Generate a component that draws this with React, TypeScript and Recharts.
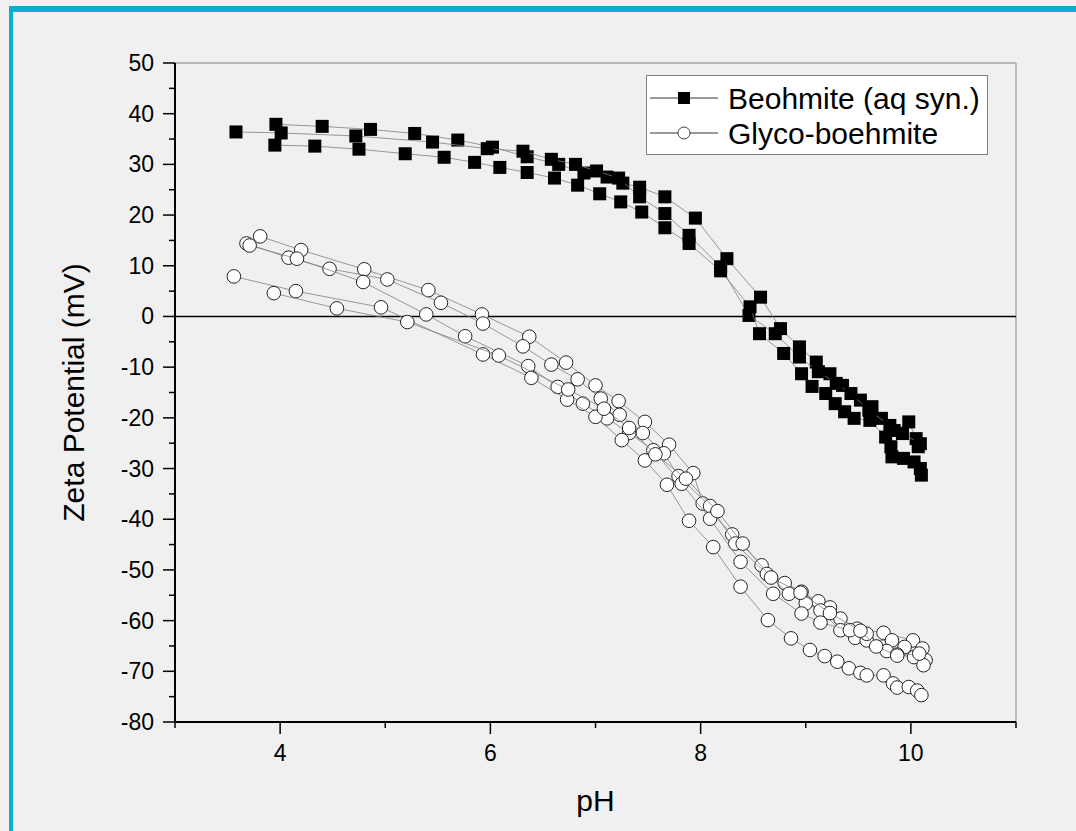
import React from 'react';
import {
  ScatterChart,
  Scatter,
  XAxis,
  YAxis,
  ReferenceLine,
  Legend,
} from 'recharts';

// pH / zeta potential (mV) pairs, one array per titration run
const beohmiteRun1 = [
  [3.96, 37.9], [4.4, 37.5], [4.86, 36.9], [5.28, 36.1], [5.69, 34.8], [6.02, 33.4],
  [6.35, 31.5], [6.65, 30.0], [6.89, 28.3], [7.11, 27.5], [7.26, 26.3], [7.42, 25.5],
  [7.66, 23.6], [7.95, 19.4], [8.25, 11.4], [8.57, 3.8], [8.76, -2.4], [8.94, -6.0],
  [9.1, -9.0], [9.23, -11.3], [9.35, -13.6], [9.52, -16.5], [9.63, -17.8], [9.72, -20.1],
  [9.84, -22.5], [9.98, -20.8], [10.05, -24.1], [10.07, -25.7],
];
const beohmiteRun2 = [
  [3.58, 36.4], [4.01, 36.2], [4.72, 35.6], [5.45, 34.4], [5.97, 33.1], [6.31, 32.6],
  [6.58, 31.0], [6.81, 30.0], [7.01, 28.7], [7.22, 27.3], [7.42, 23.6], [7.66, 20.3],
  [7.89, 16.0], [8.19, 9.8], [8.46, 0.2], [8.71, -3.4], [8.94, -8.0], [9.12, -10.9],
  [9.29, -13.2], [9.43, -15.2], [9.6, -18.5], [9.8, -21.5], [9.92, -23.1], [10.09, -25.1],
];
const beohmiteRun3 = [
  [3.95, 33.8], [4.33, 33.6], [4.75, 33.0], [5.19, 32.1], [5.56, 31.4], [5.85, 30.4],
  [6.09, 29.4], [6.35, 28.4], [6.61, 27.3], [6.83, 25.9], [7.04, 24.2], [7.24, 22.6],
  [7.44, 20.6], [7.66, 17.5], [7.89, 14.4], [8.19, 9.0], [8.47, 1.9], [8.56, -3.4],
  [8.79, -7.3], [8.96, -11.3], [9.06, -13.8], [9.19, -15.2], [9.28, -17.2], [9.37, -18.8],
  [9.46, -20.1], [9.61, -20.5], [9.76, -23.8], [9.81, -25.7], [9.82, -27.7], [9.93, -28.0],
  [10.03, -28.7], [10.09, -30.0], [10.1, -31.3],
];

const glycoRun1 = [
  [3.81, 15.8], [4.2, 13.1], [4.8, 9.3], [5.41, 5.2], [5.92, 0.4], [6.37, -4.0],
  [6.72, -9.1], [7.0, -13.6], [7.22, -16.7], [7.47, -20.8], [7.7, -25.3], [7.93, -30.9],
  [8.02, -36.9], [8.3, -43.0], [8.58, -49.1], [8.8, -52.6], [8.96, -54.3], [9.12, -56.2],
  [9.23, -57.4], [9.33, -59.6], [9.49, -61.6], [9.74, -62.4], [10.02, -63.9], [10.11, -65.5],
];
const glycoRun2 = [
  [3.68, 14.4], [4.08, 11.6], [4.47, 9.4], [5.02, 7.3], [5.53, 2.7], [5.93, -1.4],
  [6.31, -5.9], [6.58, -9.5], [6.83, -12.4], [7.05, -16.2], [7.23, -19.4], [7.45, -23.0],
  [7.65, -27.0], [7.79, -31.5], [8.09, -37.4], [8.33, -44.8], [8.63, -50.8], [8.84, -54.7],
  [9.0, -56.6], [9.14, -58.0], [9.33, -61.9], [9.47, -63.4], [9.58, -63.9], [9.82, -63.9],
  [9.94, -65.2], [10.14, -67.8],
];
const glycoRun3 = [
  [3.71, 14.0], [4.16, 11.4], [4.79, 6.8], [5.39, 0.4], [5.76, -3.9], [6.36, -9.8],
  [6.64, -13.9], [6.88, -17.2], [7.11, -20.1], [7.32, -23.0], [7.55, -26.4], [7.82, -33.0],
  [8.09, -39.9], [8.38, -48.4], [8.69, -54.7], [8.96, -58.6], [9.14, -60.4], [9.42, -61.9],
  [9.58, -62.6], [9.77, -66.0], [9.87, -66.7], [10.03, -67.2], [10.12, -68.8],
];
const glycoRun4 = [
  [3.56, 7.9], [4.15, 5.0], [4.96, 1.8], [5.93, -7.5], [6.39, -12.1], [6.73, -16.4],
  [7.0, -19.8], [7.25, -24.4], [7.47, -28.4], [7.68, -33.2], [7.89, -40.3], [8.12, -45.5],
  [8.38, -53.3], [8.64, -59.9], [8.86, -63.5], [9.04, -65.8], [9.18, -67.0], [9.3, -68.1],
  [9.41, -69.4], [9.52, -70.3], [9.58, -70.8], [9.74, -70.8], [9.83, -72.4], [9.87, -73.2],
  [9.98, -73.1], [10.06, -73.8], [10.1, -74.7],
];
const glycoRun5 = [
  [3.94, 4.6], [4.54, 1.6], [5.21, -1.1], [6.08, -7.7], [6.74, -14.4], [7.08, -18.2],
  [7.32, -22.0], [7.57, -27.2], [7.86, -32.0], [8.16, -38.4], [8.4, -44.8], [8.67, -51.5],
  [8.95, -54.5], [9.23, -58.5], [9.52, -62.0], [9.67, -65.1], [9.87, -66.9], [10.08, -66.5],
];

const X_TICKS = [3, 4, 5, 6, 7, 8, 9, 10, 11];
const Y_TICKS = [-80, -75, -70, -65, -60, -55, -50, -45, -40, -35, -30, -25, -20, -15, -10, -5, 0, 5, 10, 15, 20, 25, 30, 35, 40, 45, 50];

const FONT = 'Arial, "Liberation Sans", sans-serif';
const BG = '#f0f0f0';
const LINE = { stroke: '#808080', strokeWidth: 0.8 };

const toPoints = (run: number[][]) => run.map(([x, y]) => ({ x, y }));

const SquareMark = (p: any) => (
  <rect x={p.cx - 6.5} y={p.cy - 6.5} width={13} height={13} fill="#000" />
);
const CircleMark = (p: any) => (
  <circle cx={p.cx} cy={p.cy} r={6.8} fill="#fff" stroke="#222" strokeWidth={1} />
);

const XTick = (p: any) => {
  const v = p.payload.value;
  const major = v % 2 === 0;
  return (
    <g>
      <line x1={p.x} y1={p.y} x2={p.x} y2={p.y + (major ? 12 : 6)} stroke="#000" strokeWidth={1.5} />
      {major && (
        <text x={p.x} y={p.y + 31} textAnchor="middle" dominantBaseline="central"
          fontFamily={FONT} fontSize={23} fill="#000">{v}</text>
      )}
    </g>
  );
};

const YTick = (p: any) => {
  const v = p.payload.value;
  const major = v % 10 === 0;
  return (
    <g>
      <line x1={p.x - (major ? 12 : 6)} y1={p.y} x2={p.x} y2={p.y} stroke="#000" strokeWidth={1.5} />
      {major && (
        <text x={p.x - 21} y={p.y} textAnchor="end" dominantBaseline="central"
          fontFamily={FONT} fontSize={23} fill="#000">{v}</text>
      )}
    </g>
  );
};

const renderLegend = () => (
  <svg width={342} height={80} style={{ display: 'block' }}>
    <rect x={0.5} y={0.5} width={341} height={79} fill="#fff" stroke="#808080" />
    <line x1={4} y1={23} x2={72} y2={23} stroke="#333" strokeWidth={1} />
    <rect x={32} y={17} width={12} height={12} fill="#000" />
    <text x={82} y={23} dominantBaseline="central" fontFamily={FONT} fontSize={30} fill="#000">
      Beohmite (aq syn.)
    </text>
    <line x1={4} y1={58} x2={72} y2={58} stroke="#333" strokeWidth={1} />
    <circle cx={38} cy={58} r={6} fill="#fff" stroke="#444" />
    <text x={82} y={58} dominantBaseline="central" fontFamily={FONT} fontSize={30} fill="#000">
      Glyco-boehmite
    </text>
  </svg>
);

const beohmiteRuns = [beohmiteRun1, beohmiteRun2, beohmiteRun3];
const glycoRuns = [glycoRun1, glycoRun2, glycoRun3, glycoRun4, glycoRun5];

export default function App() {
  return (
    <div style={{ position: 'absolute', left: 0, top: 0, width: 1076, height: 831, background: BG, overflow: 'hidden' }}>
      <div style={{ position: 'absolute', left: 9, top: 6, width: 1067, height: 6, background: '#0aafd3' }} />
      <div style={{ position: 'absolute', left: 9, top: 6, width: 4, height: 825, background: '#0aafd3' }} />
      <ScatterChart
        width={1076}
        height={831}
        margin={{ top: 63, right: 60, bottom: 49, left: 50 }}
        style={{ position: 'absolute', left: 0, top: 0 }}
      >
        <XAxis
          type="number"
          dataKey="x"
          domain={[3, 11]}
          ticks={X_TICKS}
          interval={0}
          height={60}
          tickSize={0}
          tickMargin={0}
          tickLine={false}
          tick={<XTick />}
          axisLine={{ stroke: '#000', strokeWidth: 2 }}
          label={{
            content: (lp: any) => {
              const vb = lp.viewBox;
              return (
                <text x={vb.x + vb.width / 2} y={vb.y + 78} textAnchor="middle" dominantBaseline="central"
                  fontFamily={FONT} fontSize={30} fill="#000">pH</text>
              );
            },
          }}
        />
        <YAxis
          type="number"
          dataKey="y"
          domain={[-80, 50]}
          ticks={Y_TICKS}
          interval={0}
          width={125}
          tickSize={0}
          tickMargin={0}
          tickLine={false}
          tick={<YTick />}
          axisLine={{ stroke: '#000', strokeWidth: 2 }}
          label={{
            content: (lp: any) => {
              const vb = lp.viewBox;
              const cx = vb.x + 23;
              const cy = vb.y + vb.height / 2;
              return (
                <text x={cx} y={cy} transform={`rotate(-90 ${cx} ${cy})`} textAnchor="middle"
                  dominantBaseline="central" fontFamily={FONT} fontSize={30} fill="#000">
                  Zeta Potential (mV)
                </text>
              );
            },
          }}
        />
        <ReferenceLine y={50} stroke="#a8a8a8" strokeWidth={1.5} />
        <ReferenceLine x={11} stroke="#a8a8a8" strokeWidth={1.5} />
        <ReferenceLine y={0} stroke="#000" strokeWidth={1.5} />
        {beohmiteRuns.map((run, i) => (
          <Scatter
            key={`b${i}`}
            name="Beohmite (aq syn.)"
            data={toPoints(run)}
            line={LINE}
            lineType="joint"
            shape={SquareMark}
            isAnimationActive={false}
          />
        ))}
        {glycoRuns.map((run, i) => (
          <Scatter
            key={`g${i}`}
            name="Glyco-boehmite"
            data={toPoints(run)}
            line={LINE}
            lineType="joint"
            shape={CircleMark}
            isAnimationActive={false}
          />
        ))}
        <Legend
          layout="horizontal"
          verticalAlign="middle"
          align="center"
          content={renderLegend}
          wrapperStyle={{ left: 646, top: 75, width: 342, height: 80 }}
        />
      </ScatterChart>
    </div>
  );
}
